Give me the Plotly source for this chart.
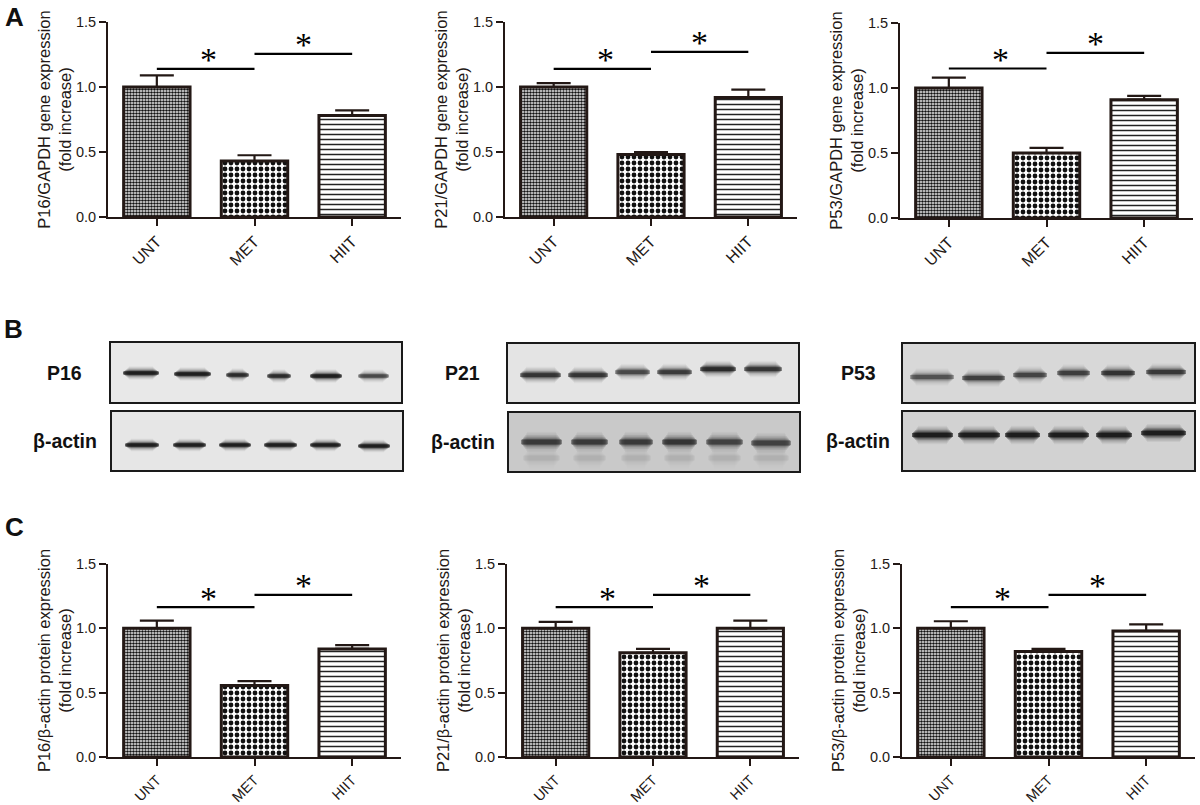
import plotly.graph_objects as go

W, H = 1200, 805
INK = "#231815"
FONT = "Liberation Sans"

categories = ["UNT", "MET", "HIIT"]
y_ticks = [0, 0.5, 1.0, 1.5]

p16_gene = [1.00, 0.43, 0.78]
p16_gene_err = [0.09, 0.045, 0.04]
p21_gene = [1.00, 0.48, 0.92]
p21_gene_err = [0.03, 0.02, 0.06]
p53_gene = [1.00, 0.50, 0.91]
p53_gene_err = [0.08, 0.04, 0.03]
p16_prot = [1.00, 0.555, 0.84]
p16_prot_err = [0.06, 0.035, 0.03]
p21_prot = [1.00, 0.81, 1.00]
p21_prot_err = [0.05, 0.03, 0.06]
p53_prot = [1.00, 0.82, 0.98]
p53_prot_err = [0.055, 0.02, 0.05]

# (value series, error, y-title, left px, right px, top px, bottom px, bracket 1, bracket 2, x tick size)
bar_panels = [
    (p16_gene, p16_gene_err, "P16/GAPDH gene expression<br>(fold increase)", 108, 401, 22, 217, 1.14, 1.255, 16),
    (p21_gene, p21_gene_err, "P21/GAPDH gene expression<br>(fold increase)", 505, 797, 22, 217, 1.14, 1.27, 16),
    (p53_gene, p53_gene_err, "P53/GAPDH gene expression<br>(fold increase)", 900, 1193, 23, 218, 1.15, 1.27, 16),
    (p16_prot, p16_prot_err, "P16/β-actin protein expression<br>(fold increase)", 108, 401, 564, 757, 1.165, 1.26, 14.5),
    (p21_prot, p21_prot_err, "P21/β-actin protein expression<br>(fold increase)", 507, 799, 564, 757, 1.165, 1.26, 14.5),
    (p53_prot, p53_prot_err, "P53/β-actin protein expression<br>(fold increase)", 902, 1195, 564, 757, 1.165, 1.26, 14.5),
]

# Western blots: band start/end and row (px inside each strip), darkness 0-1
p16_starts = [12, 63, 115, 156, 199, 247]
p16_ends = [48, 100, 138, 180, 231, 278]
p16_rows = [30, 31, 32, 33, 33, 33]
p16_dark = [1.0, 1.0, 0.85, 0.85, 1.0, 0.6]
a1_starts = [13, 61, 107, 152, 198, 246]
a1_ends = [47, 94, 139, 185, 229, 278]
a1_rows = [33, 33, 33, 33, 33, 34]
a1_dark = [1.0, 1.0, 1.0, 1.0, 1.0, 1.0]
p21_starts = [12, 60, 107, 149, 192, 236]
p21_ends = [53, 100, 142, 184, 228, 274]
p21_rows = [31, 31, 28, 28, 25, 25]
p21_dark = [0.75, 0.75, 0.6, 0.7, 0.85, 0.75]
a2_starts = [12, 62, 110, 153, 197, 242, 14, 64, 112, 155, 199, 244]
a2_ends = [53, 99, 144, 188, 234, 282, 51, 97, 142, 186, 232, 280]
a2_rows = [29, 29, 29, 29, 29, 30, 45, 45, 45, 45, 45, 45]
a2_dark = [0.65, 0.65, 0.65, 0.7, 0.6, 0.6, 0.05, 0.05, 0.05, 0.05, 0.05, 0.05]
p53_starts = [7, 59, 110, 154, 198, 243]
p53_ends = [51, 102, 144, 187, 232, 283]
p53_rows = [33, 34, 31, 29, 29, 28]
p53_dark = [0.5, 0.65, 0.6, 0.65, 0.75, 0.7]
a3_starts = [9, 55, 102, 145, 193, 238]
a3_ends = [50, 97, 137, 186, 229, 283]
a3_rows = [23, 23, 23, 23, 23, 21]
a3_dark = [1.0, 1.0, 1.0, 1.0, 1.0, 1.0]

blot_panels = [
    ("P16", 111, 401, 343, 402, "#e8e8e8", p16_starts, p16_ends, p16_rows, p16_dark, 64, 1.0),
    ("β-actin", 112, 402, 412, 470, "#e6e6e6", a1_starts, a1_ends, a1_rows, a1_dark, 65, 0.95),
    ("P21", 508, 798, 344, 402, "#e4e4e4", p21_starts, p21_ends, p21_rows, p21_dark, 462, 1.25),
    ("β-actin", 509, 799, 413, 471, "#c9c9c9", a2_starts, a2_ends, a2_rows, a2_dark, 463, 1.55),
    ("P53", 903, 1194, 344, 402, "#d8d8d8", p53_starts, p53_ends, p53_rows, p53_dark, 858, 1.3),
    ("β-actin", 903, 1194, 412, 470, "#d2d2d2", a3_starts, a3_ends, a3_rows, a3_dark, 858, 1.4),
]

fills = [
    dict(shape=".", size=3, solidity=0.6, fgcolor="#111111", bgcolor="white", fgopacity=1),
    dict(shape=".", size=6, solidity=0.5, fgcolor="#111111", bgcolor="white", fgopacity=1),
    dict(shape="-", size=5, solidity=0.3, fgcolor="#222222", bgcolor="white", fgopacity=1),
]

fig = go.Figure()
layout = dict(
    width=W, height=H, margin=dict(l=0, r=0, t=0, b=0, autoexpand=False), showlegend=False,
    paper_bgcolor="white", plot_bgcolor="rgba(0,0,0,0)", font=dict(family=FONT, color=INK),
)
annotations = []
axis_no = 0


def next_axes():
    global axis_no
    axis_no += 1
    return "" if axis_no == 1 else str(axis_no)


for vals, errs, title, left, right, top, bottom, b1, b2, xtick_size in bar_panels:
    s = next_axes()
    xr, yr = "x" + s, "y" + s
    for cat, val, err, fill in zip(categories, vals, errs, fills):
        fig.add_trace(go.Bar(
            x=[cat], y=[val], width=0.68, xaxis=xr, yaxis=yr,
            marker=dict(color="white", pattern=fill, line=dict(color=INK, width=3)),
            error_y=dict(type="data", symmetric=False, array=[err], arrayminus=[0],
                         color=INK, thickness=2.2, width=17),
        ))
    fig.add_trace(go.Scatter(x=categories[:2], y=[b1, b1], mode="lines", xaxis=xr, yaxis=yr,
                             line=dict(color="black", width=2.2)))
    fig.add_trace(go.Scatter(x=categories[1:], y=[b2, b2], mode="lines", xaxis=xr, yaxis=yr,
                             line=dict(color="black", width=2.2)))
    for a, b, level, dx in ((0, 1, b1, 3), (1, 2, b2, 0)):
        annotations.append(dict(
            x=(a + b) / 2, y=level, xref=xr, yref=yr, text="*", showarrow=False,
            yanchor="middle", yshift=9, xshift=dx,
            font=dict(family="Liberation Serif", size=34, color="black"),
        ))
    layout["xaxis" + s] = dict(
        domain=[left / W, right / W], anchor=yr, type="category", categoryorder="array",
        categoryarray=categories, range=[-0.5, 2.5], tickangle=-45, ticks="outside",
        ticklen=7, tickwidth=2, tickcolor=INK, showline=True, linewidth=2, linecolor=INK,
        showgrid=False, zeroline=False, automargin=False,
        tickfont=dict(family=FONT, size=xtick_size, color=INK),
    )
    layout["yaxis" + s] = dict(
        domain=[1 - bottom / H, 1 - top / H], anchor=xr, range=[0, 1.5], tickvals=y_ticks,
        tickformat=".1f", ticks="outside", ticklen=7, tickwidth=2, tickcolor=INK,
        showline=True, linewidth=2, linecolor=INK, showgrid=False, zeroline=False, automargin=False,
        tickfont=dict(family=FONT, size=14.5, color=INK),
        title=dict(text=title, font=dict(family=FONT, size=16.5, color=INK), standoff=0),
    )

# soft band profile: line width, opacity, inset from band ends
glow = [(13, 0.05, 6), (11, 0.08, 5), (9, 0.12, 4), (7, 0.2, 3), (5.5, 0.3, 2), (4, 0.45, 1), (3, 0.6, 0)]

for label, left, right, top, bottom, bg, starts, ends, rows, dark, label_x, thick in blot_panels:
    s = next_axes()
    xr, yr = "x" + s, "y" + s
    for start, end, row, d in zip(starts, ends, rows, dark):
        for width, alpha, inset in glow:
            fig.add_trace(go.Scatter(
                x=[start + inset, end - inset], y=[row, row], mode="lines", xaxis=xr, yaxis=yr,
                line=dict(color="#0c0c0c", width=width * thick), opacity=alpha * d, hoverinfo="skip",
            ))
    layout["xaxis" + s] = dict(
        domain=[left / W, right / W], anchor=yr, range=[0, right - left], visible=True,
        showticklabels=False, ticks="", showgrid=False, zeroline=False, mirror=True, automargin=False,
        showline=True, linewidth=1.8, linecolor="#1a1a1a",
    )
    layout["yaxis" + s] = dict(
        domain=[1 - bottom / H, 1 - top / H], anchor=xr, range=[bottom - top, 0], visible=True,
        showticklabels=False, ticks="", showgrid=False, zeroline=False, mirror=True, automargin=False,
        showline=True, linewidth=1.8, linecolor="#1a1a1a",
    )
    layout.setdefault("shapes", []).append(dict(
        type="rect", xref=xr + " domain", yref=yr + " domain", x0=0, x1=1, y0=0, y1=1,
        fillcolor=bg, line=dict(width=0), layer="below",
    ))
    annotations.append(dict(
        x=label_x, y=(top + bottom) / 2, xref="x20", yref="y20", text="<b>%s</b>" % label,
        showarrow=False, xanchor="center", yanchor="middle",
        font=dict(family=FONT, size=19.5, color="#111111"),
    ))

# full-page helper axes for the panel labels
layout["xaxis20"] = dict(domain=[0, 1], range=[0, W], visible=False, anchor="y20", fixedrange=True, automargin=False)
layout["yaxis20"] = dict(domain=[0, 1], range=[H, 0], visible=False, anchor="x20", fixedrange=True, automargin=False)
fig.add_trace(go.Scatter(x=[0], y=[0], mode="markers", marker=dict(opacity=0), xaxis="x20", yaxis="y20", hoverinfo="skip"))

for letter, px, py in (("A", 14, 17), ("B", 13, 329), ("C", 14, 527)):
    annotations.append(dict(
        x=px, y=py, xref="x20", yref="y20", text="<b>%s</b>" % letter,
        showarrow=False, xanchor="center", yanchor="middle",
        font=dict(family=FONT, size=26, color="#111111"),
    ))

layout["annotations"] = annotations
fig.update_layout(**layout)
fig.write_html("out.html", config=dict(displayModeBar=False),
               post_script="document.body.style.margin='0';document.body.style.overflow='hidden';")
